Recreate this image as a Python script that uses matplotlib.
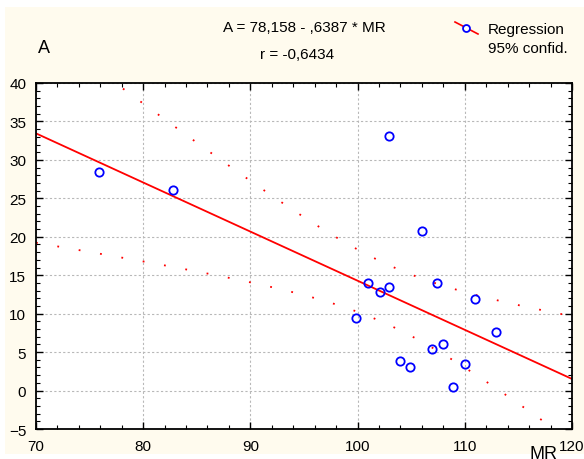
import numpy as np
import matplotlib.pyplot as plt
from matplotlib.lines import Line2D
from matplotlib.patches import Rectangle

plt.rcParams['font.family'] = ['Liberation Sans', 'DejaVu Sans']

# datos
mr = [75.9, 82.8, 102.9, 106.0, 101.0, 102.1, 102.9, 107.4, 111.0,
      99.9, 112.9, 104.0, 104.9, 106.9, 108.0, 110.0, 108.9]
a = [28.4, 26.1, 33.1, 20.8, 14.0, 12.8, 13.5, 14.0, 11.9,
     9.4, 7.6, 3.85, 3.1, 5.4, 6.1, 3.5, 0.5]

b0, b1 = 78.158, -0.6387
t_crit = 2.131  # t(0.975, n-2 = 15)

mr = np.array(mr)
a = np.array(a)
n = len(mr)

# recta de regresión e intervalo de confianza 95%
xs = np.linspace(70, 120, 200)
fit = b0 + b1 * xs
resid = a - (b0 + b1 * mr)
s = np.sqrt(np.sum(resid ** 2) / (n - 2))
sxx = np.sum((mr - mr.mean()) ** 2)
half = t_crit * s * np.sqrt(1 / n + (xs - mr.mean()) ** 2 / sxx)

fig = plt.figure(figsize=(5.84, 4.60), dpi=100, facecolor='white')
# fondo crema con borde blanco fino
fig.patches.append(Rectangle((5 / 584, 5 / 460), 1 - 5 / 584, 1 - 13 / 460,
                             transform=fig.transFigure, facecolor='#fffbee',
                             edgecolor='none', zorder=-10))

ax = fig.add_axes([0.0616, 0.0652, 0.9178, 0.7522])
ax.set_facecolor('white')

ax.plot(xs, fit, color='red', linewidth=1.3)
ax.plot(xs, fit + half, color='red', linewidth=1.3, linestyle=(0, (1, 11)))
ax.plot(xs, fit - half, color='red', linewidth=1.3, linestyle=(0, (1, 11)))
ax.plot(mr, a, linestyle='none', marker='o', markersize=6,
        markerfacecolor='none', markeredgecolor='blue', markeredgewidth=1.3)

ax.set_xlim(70, 120)
ax.set_ylim(-5, 40)
ax.set_xticks(np.arange(70, 121, 10))
ax.set_yticks(np.arange(-5, 41, 5))
ax.set_xticks(np.arange(70, 121, 2), minor=True)
ax.set_yticks(np.arange(-5, 41, 1), minor=True)
ax.tick_params(which='both', direction='in', top=True, right=True,
               labelsize=11, color='black')
ax.tick_params(which='major', length=5, width=1)
ax.tick_params(which='minor', length=3, width=0.8)
ax.tick_params(axis='x', pad=7)
ax.tick_params(axis='y', pad=7)
ax.grid(True, which='major', linestyle=(0, (2, 2)), color='#b8b8b8', linewidth=0.8)
for sp in ax.spines.values():
    sp.set_linewidth(1.3)

fig.text(0.522, 0.94, 'A = 78,158 - ,6387 * MR', ha='center', va='center', fontsize=11)
fig.text(0.509, 0.88, 'r = -0,6434', ha='center', va='center', fontsize=11)
fig.text(0.075, 0.895, 'A', ha='center', va='center', fontsize=13)
fig.text(0.93, 0.03, 'MR', ha='center', va='top', fontsize=13)

# leyenda dibujada a mano (línea diagonal con círculo)
fig.add_artist(Line2D([455 / 584, 478 / 584], [1 - 23 / 460, 1 - 35 / 460],
                      transform=fig.transFigure, color='red', linewidth=1.2))
fig.add_artist(Line2D([466 / 584], [1 - 29 / 460], transform=fig.transFigure,
                      linestyle='none', marker='o', markersize=5,
                      markerfacecolor='white', markeredgecolor='blue',
                      markeredgewidth=1.3))
fig.text(488 / 584, 1 - 30 / 460, 'Regression', ha='left', va='center', fontsize=11)
fig.text(488 / 584, 1 - 49 / 460, '95% confid.', ha='left', va='center', fontsize=11)

fig.savefig('out.png', dpi=100, facecolor=fig.get_facecolor())
